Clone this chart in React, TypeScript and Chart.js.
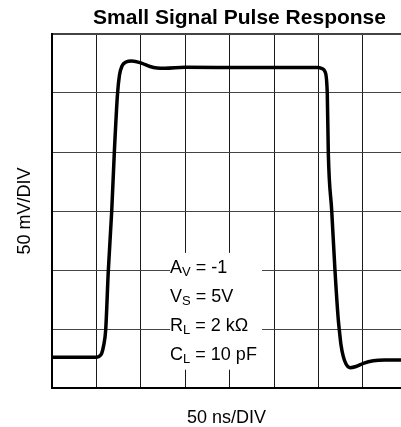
import React, { useEffect, useRef } from 'react';
import { Chart, registerables } from 'chart.js';

Chart.register(...registerables);

// ---- Data (in scope divisions) ----
const titleText = 'Small Signal Pulse Response';
const xAxisLabel = '50 ns/DIV';
const yAxisLabel = '50 mV/DIV';

const timeDiv = [
  0, 0.968, 1.059, 1.119, 1.16, 1.209, 1.268, 1.345, 1.403, 1.475, 1.52, 1.577, 1.667, 1.795,
  2.027, 2.207, 2.365, 2.545, 2.995, 4.459, 5.991, 6.081, 6.149, 6.2, 6.223, 6.3, 6.374,
  6.448, 6.471, 6.509, 6.561, 6.622, 6.712, 6.847, 7.011, 7.236, 7.5, 7.86,
];
const voltDiv = [
  0.52, 0.52, 0.534, 0.588, 0.71, 0.983, 1.983, 3.0, 3.983, 4.983, 5.305, 5.458, 5.525, 5.542,
  5.503, 5.449, 5.424, 5.419, 5.436, 5.432, 5.432, 5.415, 5.361, 4.983, 3.983, 3.0, 1.983,
  1.153, 0.983, 0.729, 0.531, 0.407, 0.344, 0.364, 0.419, 0.463, 0.475, 0.475,
];

const xMin = 0;
const xMax = 7.86;
const yMin = 0;
const yMax = 6;

// Conditions text box
const annoMain = ['A', 'V', 'R', 'C'];
const annoSub = ['V', 'S', 'L', 'L'];
const annoRest = [' = -1', ' = 5V', ' = 2 k\u03A9', ' = 10 pF'];
const annoBaselines = [1.95, 1.458, 0.966, 0.475];
const boxX = [2.66, 4.73];
const boxY = [0.31, 2.29];

const FONT = '"Liberation Sans", Arial, Helvetica, sans-serif';

const specBoxPlugin = {
  id: 'specBox',
  beforeDatasetsDraw(chart: any) {
    const { ctx, scales } = chart;
    const x = scales.x;
    const y = scales.y;
    const left = x.getPixelForValue(boxX[0]);
    const right = x.getPixelForValue(boxX[1]);
    const top = y.getPixelForValue(boxY[1]);
    const bottom = y.getPixelForValue(boxY[0]);
    ctx.save();
    ctx.fillStyle = '#ffffff';
    ctx.fillRect(left, top, right - left, bottom - top);
    ctx.fillStyle = '#000000';
    ctx.textBaseline = 'alphabetic';
    ctx.textAlign = 'left';
    annoMain.forEach((m, i) => {
      let px = left;
      const py = y.getPixelForValue(annoBaselines[i]);
      ctx.font = `18px ${FONT}`;
      ctx.fillText(m, px, py);
      px += ctx.measureText(m).width;
      ctx.font = `13px ${FONT}`;
      ctx.fillText(annoSub[i], px, py + 3);
      px += ctx.measureText(annoSub[i]).width;
      ctx.font = `18px ${FONT}`;
      ctx.fillText(annoRest[i], px, py);
    });
    ctx.restore();
  },
};

const headerPlugin = {
  id: 'header',
  afterDraw(chart: any) {
    const { ctx } = chart;
    ctx.save();
    ctx.font = `bold 21px ${FONT}`;
    ctx.fillStyle = '#000000';
    ctx.textAlign = 'center';
    ctx.textBaseline = 'alphabetic';
    ctx.fillText(titleText, 239.5, 24);
    ctx.restore();
  },
};

export default function App() {
  const canvasRef = useRef<HTMLCanvasElement | null>(null);

  useEffect(() => {
    if (!canvasRef.current) return;
    const chart = new Chart(canvasRef.current, {
      type: 'line',
      data: {
        datasets: [
          {
            data: timeDiv.map((t, i) => ({ x: t, y: voltDiv[i] })),
            borderColor: '#000000',
            borderWidth: 3.5,
            pointRadius: 0,
            fill: false,
            cubicInterpolationMode: 'monotone',
          },
        ],
      },
      options: {
        responsive: false,
        animation: false,
        layout: { padding: { top: 34, left: 0, right: 0, bottom: 0 } },
        plugins: {
          legend: { display: false },
          tooltip: { enabled: false },
          title: { display: false },
        },
        scales: {
          x: {
            type: 'linear',
            min: xMin,
            max: xMax,
            ticks: { display: false, stepSize: 1, includeBounds: false },
            grid: { color: '#1a1a1a', lineWidth: 1, drawTicks: false },
            border: { display: true, color: '#000000', width: 2 },
            title: {
              display: true,
              text: xAxisLabel,
              color: '#000000',
              font: { family: FONT, size: 18, lineHeight: 1 },
              padding: { top: 21, bottom: 0 },
            },
          },
          y: {
            type: 'linear',
            min: yMin,
            max: yMax,
            ticks: { display: false, stepSize: 1 },
            grid: {
              color: '#444444',
              lineWidth: (c: any) => (c.tick && c.tick.value === yMax ? 2 : 1),
              drawTicks: false,
            },
            border: { display: true, color: '#000000', width: 2 },
            title: {
              display: true,
              text: yAxisLabel,
              color: '#000000',
              font: { family: FONT, size: 18, lineHeight: 1 },
              padding: { top: 16.5, bottom: 17.5 },
            },
          },
        },
      },
      plugins: [specBoxPlugin, headerPlugin],
    });
    return () => chart.destroy();
  }, []);

  return (
    <div
      style={{
        position: 'fixed',
        left: 0,
        top: 0,
        width: 401,
        height: 427,
        background: '#ffffff',
      }}
    >
      <canvas ref={canvasRef} width={401} height={427} style={{ width: 401, height: 427, display: 'block' }} />
    </div>
  );
}
